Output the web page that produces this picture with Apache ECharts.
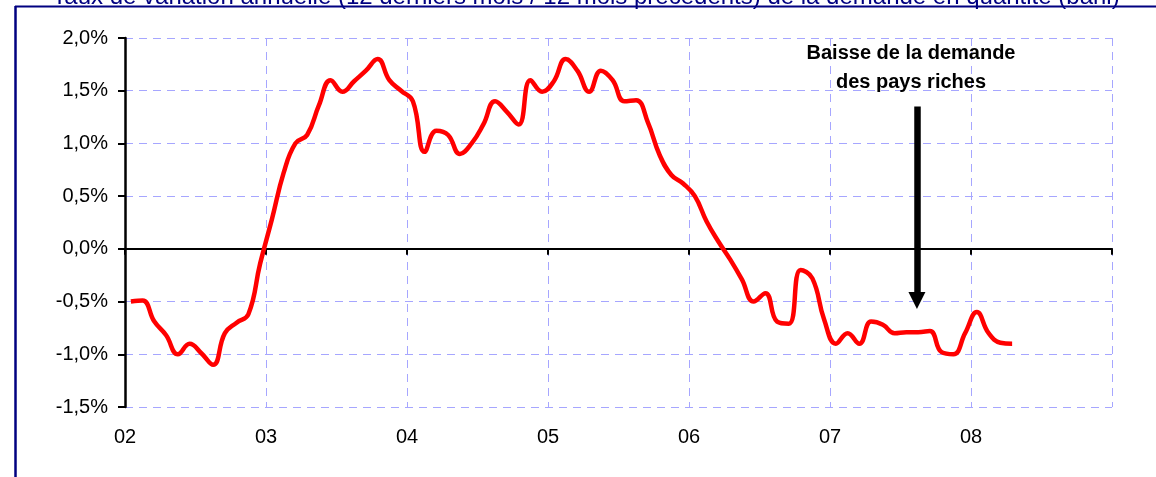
<!DOCTYPE html>
<html>
<head>
<meta charset="utf-8">
<script src="https://cdn.jsdelivr.net/npm/echarts@6/dist/echarts.min.js"></script>
<style>
  html, body { margin: 0; padding: 0; background: #ffffff; }
  #chart { width: 1156px; height: 477px; }
</style>
</head>
<body>
<div id="chart"></div>
<script>
// Monthly annual growth rate of demand (%), Jan 2002 .. Apr 2008
const demandGrowth = [
  -0.50, -0.49, -0.69, -0.82, -1.00, -0.90, -0.99, -1.10, -0.80, -0.70, -0.62, -0.14,
   0.28,  0.72,  1.00,  1.08,  1.36,  1.60,  1.49,  1.59,  1.69,  1.80,  1.60,  1.50,
   1.40,  0.92,  1.12,  1.08,  0.90,  1.00,  1.18,  1.40,  1.30,  1.18,  1.60,  1.49,
   1.59,  1.80,  1.69,  1.49,  1.69,  1.60,  1.40,  1.41,  1.20,  0.89,  0.70,  0.62,
   0.50,  0.26,  0.07, -0.10, -0.29, -0.50, -0.42, -0.69, -0.71, -0.20, -0.28, -0.67,
  -0.90, -0.80, -0.90, -0.69, -0.72, -0.80, -0.79, -0.79, -0.78, -0.98, -1.00, -0.80,
  -0.60, -0.80, -0.89, -0.90
];
const yearLabels = ['02', '03', '04', '05', '06', '07', '08', ''];
const yTicks = [-1.5, -1.0, -0.5, 0.0, 0.5, 1.0, 1.5, 2.0];
const titleText = 'Taux de variation annuelle (12 derniers mois / 12 mois précédents) de la demande en quantité (baril)';
const annotationText = 'Baisse de la demande\ndes pays riches';
const arrowMonth = 67.4;       // position of the annotation arrow (months since Jan 02)
const arrowFrom = 1.35;        // arrow start value (%)
const arrowTo = -0.49;         // arrow head value (%)

const MONTHS_PER_YEAR = 12;
const xMax = (yearLabels.length - 1) * MONTHS_PER_YEAR;

const chart = echarts.init(document.getElementById('chart'), null, { renderer: 'canvas' });

const gridColor = '#a6a6ff';
const font = 'Arial, "Liberation Sans", sans-serif';

chart.setOption({
  backgroundColor: '#ffffff',
  animation: false,
  grid: { left: 125, right: 44, top: 38, bottom: 70, containLabel: false },
  xAxis: [
    {
      type: 'value',
      min: 0, max: xMax, interval: MONTHS_PER_YEAR,
      axisLine: { show: true, onZero: true, lineStyle: { color: '#000', width: 2 } },
      axisTick: { show: true, inside: false, length: 6, lineStyle: { color: '#000', width: 2 } },
      axisLabel: { show: false },
      splitLine: { show: true, lineStyle: { color: gridColor, type: [8, 6], width: 1 } }
    },
    {
      type: 'value',
      position: 'bottom',
      min: 0, max: xMax, interval: MONTHS_PER_YEAR,
      axisLine: { show: false, onZero: false },
      axisTick: { show: false },
      splitLine: { show: false },
      axisLabel: {
        show: true, margin: 20, color: '#000', fontSize: 20, fontFamily: font,
        formatter: v => yearLabels[Math.round(v / MONTHS_PER_YEAR)] || ''
      }
    }
  ],
  yAxis: {
    type: 'value',
    min: yTicks[0], max: yTicks[yTicks.length - 1], interval: 0.5,
    axisLine: { show: true, onZero: false, lineStyle: { color: '#000', width: 2.5 } },
    axisTick: { show: true, inside: false, length: 7, lineStyle: { color: '#000', width: 2 } },
    axisLabel: {
      margin: 17, color: '#000', fontSize: 20, fontFamily: font,
      formatter: v => v.toFixed(1).replace('.', ',') + '%'
    },
    splitLine: { show: true, lineStyle: { color: gridColor, type: [8, 6], width: 1 } }
  },
  series: [
    {
      type: 'line',
      xAxisIndex: 0,
      data: demandGrowth.map((v, i) => [i + 0.5, v]),
      smooth: 0.45,
      showSymbol: false,
      symbol: 'none',
      lineStyle: { color: '#ff0000', width: 4.5 },
      z: 3,
      markLine: {
        silent: true,
        symbol: ['none', 'triangle'],
        symbolSize: [17, 17],
        label: { show: false },
        lineStyle: { color: '#000', width: 6.5, type: 'solid' },
        emphasis: { disabled: true },
        data: [[{ coord: [arrowMonth, arrowFrom] }, { coord: [arrowMonth, arrowTo] }]]
      }
    }
  ],
  graphic: [
    {
      type: 'text', x: 586, y: -3, z: 10,
      style: {
        text: titleText, fill: '#000080', fontSize: 24, fontFamily: font,
        textAlign: 'center', verticalAlign: 'middle'
      }
    },
    {
      type: 'line', z: 11,
      shape: { x1: 15, y1: 6.5, x2: 1156, y2: 6.5 },
      style: { stroke: '#000080', lineWidth: 2 }
    },
    {
      type: 'line', z: 11,
      shape: { x1: 15.5, y1: 6, x2: 15.5, y2: 477 },
      style: { stroke: '#000080', lineWidth: 2.5 }
    },
    {
      type: 'text', x: 911, y: 39, z: 10,
      style: {
        text: annotationText, fill: '#000', fontSize: 20, fontWeight: 'bold', fontFamily: font,
        textAlign: 'center', verticalAlign: 'top', lineHeight: 29
      }
    }
  ]
});
</script>
</body>
</html>
